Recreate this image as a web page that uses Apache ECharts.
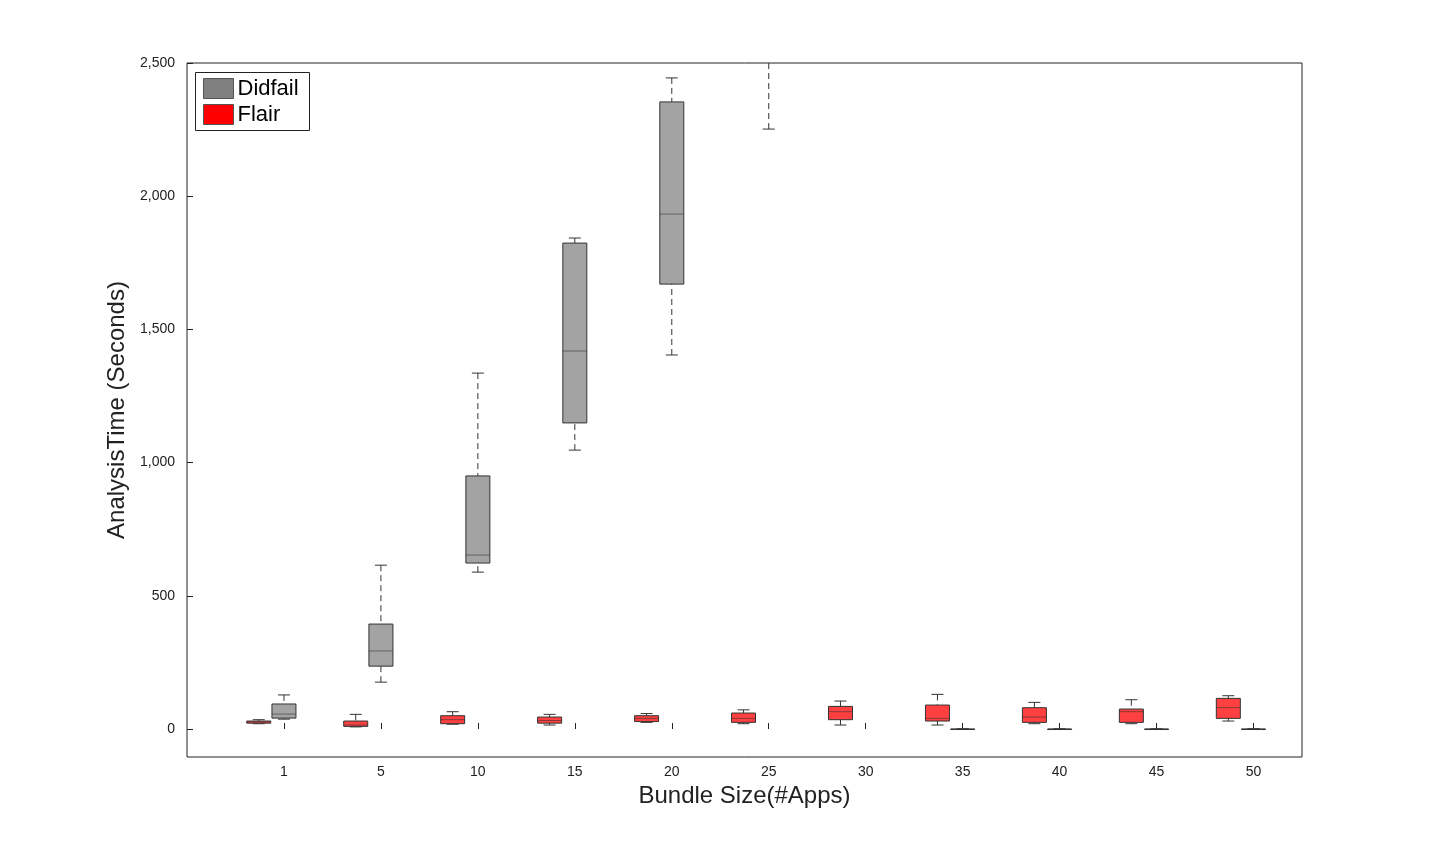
<!DOCTYPE html>
<html><head><meta charset="utf-8">
<script src="https://cdn.jsdelivr.net/npm/echarts@6/dist/echarts.min.js"></script>
<style>html,body{margin:0;background:#fff}#c{width:1440px;height:849px}</style>
</head><body><div id="c"></div>
<script>
const categories=['1','5','10','15','20','25','30','35','40','45','50'];
// [min, q1, median, q3, max]
const didfail=[[37,41,56,94,128],[176,236,293,394,615],[589,623,653,950,1336],[1047,1149,1419,1824,1843],[1404,1670,1933,2354,2444],[2252,2600,2700,2800,2900],null,[0,0,0,0,0],[0,0,0,0,0],[0,0,0,0,0],[0,0,0,0,0]];
const flair=[[20,22,27,30,35],[8,10,15,30,55],[18,20,35,50,65],[15,22,32,45,55],[25,28,40,50,58],[20,25,40,60,72],[15,35,65,85,105],[15,30,40,90,130],[20,25,45,80,100],[20,25,65,75,110],[30,40,80,115,125]];
const yTicks=[0,500,1000,1500,2000,2500];

function build(arr,off){const out=[];arr.forEach((b,i)=>{if(b)out.push([i+1+off].concat(b));});return out;}
function render(fill){return function(params,api){
  const x=api.value(0);const cs=params.coordSys;
  const p=v=>api.coord([x,v]);const hw=12,cw=6;
  const lo=p(api.value(1)),q1=p(api.value(2)),md=p(api.value(3)),q3=p(api.value(4)),hi=p(api.value(5));
  const cx=lo[0];const ln={stroke:'#333',lineWidth:1};const dash={stroke:'#333',lineWidth:1,lineDash:[6,4]};
  const clip={x:cs.x,y:cs.y,width:cs.width,height:cs.height};
  return {type:'group',clipPath:{type:'rect',shape:clip},children:[
    {type:'line',shape:{x1:cx,y1:hi[1],x2:cx,y2:q3[1]},style:dash},
    {type:'line',shape:{x1:cx,y1:lo[1],x2:cx,y2:q1[1]},style:dash},
    {type:'line',shape:{x1:cx-cw,y1:hi[1],x2:cx+cw,y2:hi[1]},style:ln},
    {type:'line',shape:{x1:cx-cw,y1:lo[1],x2:cx+cw,y2:lo[1]},style:ln},
    {type:'rect',shape:{x:cx-hw,y:q3[1],width:2*hw,height:Math.max(q1[1]-q3[1],0.5)},style:{fill:fill,stroke:'#333',lineWidth:1}},
    {type:'line',shape:{x1:cx-hw,y1:md[1],x2:cx+hw,y2:md[1]},style:{stroke:'#333',lineWidth:1,opacity:0.6}}
  ]};};}
const chart=echarts.init(document.getElementById('c'));
chart.setOption({
  animation:false,
  grid:{left:187,right:138,top:63,bottom:92,show:true,borderColor:'#222',borderWidth:1},
  legend:{show:false},
  xAxis:{type:'value',min:0,max:11.5,name:'Bundle Size(#Apps)',nameLocation:'middle',nameGap:26,
    nameTextStyle:{fontSize:24,color:'#222',fontFamily:'Helvetica, Arial, sans-serif'},
    axisLine:{show:false},splitLine:{show:false},
    axisTick:{inside:true,length:6,customValues:[1,2,3,4,5,6,7,8,9,10,11],lineStyle:{color:'#222'}},
    axisLabel:{customValues:[1,2,3,4,5,6,7,8,9,10,11],formatter:v=>categories[Math.round(v)-1]||'',fontSize:14,color:'#222',margin:8}},
  yAxis:{type:'value',min:-105,max:2500,name:'AnalysisTime (Seconds)',nameLocation:'middle',nameGap:48,
    nameTextStyle:{fontSize:24,color:'#222'},
    axisLine:{show:false},splitLine:{show:false},
    axisTick:{inside:true,length:6,customValues:yTicks,lineStyle:{color:'#222'}},
    axisLabel:{customValues:yTicks,fontSize:14,color:'#222',margin:12}},
  graphic:[{type:'group',left:195,top:72,children:[
    {type:'rect',shape:{x:0,y:0,width:114,height:58},style:{fill:'#fff',stroke:'#222',lineWidth:1}},
    {type:'rect',shape:{x:8,y:6,width:30,height:20},style:{fill:'#808080',stroke:'#555'}},
    {type:'text',style:{x:42,y:16,text:'Didfail',fontSize:22,fill:'#000',verticalAlign:'middle'}},
    {type:'rect',shape:{x:8,y:32,width:30,height:20},style:{fill:'#ff0000',stroke:'#555'}},
    {type:'text',style:{x:42,y:42,text:'Flair',fontSize:22,fill:'#000',verticalAlign:'middle'}}]}],
  series:[
    {type:'custom',name:'Flair',renderItem:render('#ff4040'),data:build(flair,-0.26),encode:{x:0,y:[1,5]}},
    {type:'custom',name:'Didfail',renderItem:render('#a3a3a3'),data:build(didfail,0),encode:{x:0,y:[1,5]}}
  ]
});
</script></body></html>
